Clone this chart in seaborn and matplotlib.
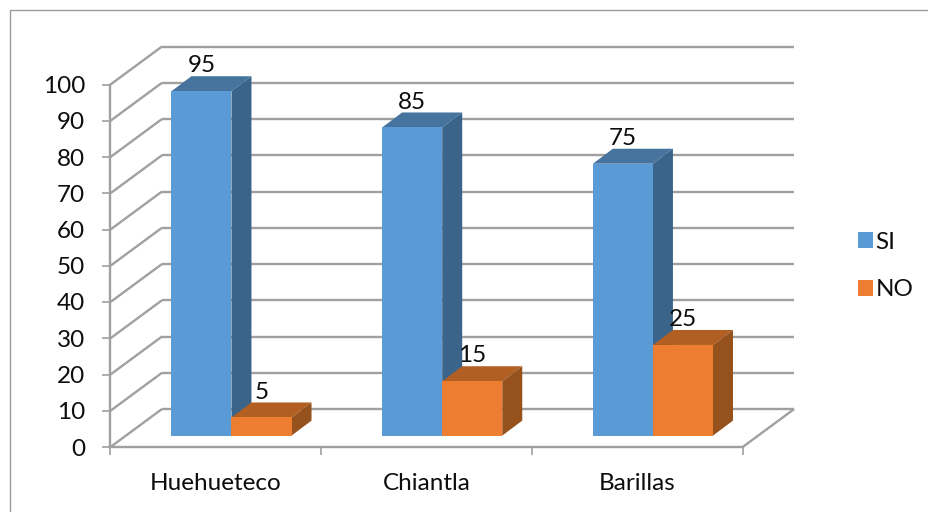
import matplotlib
matplotlib.use("Agg")
import matplotlib.pyplot as plt
import pandas as pd
import seaborn as sns
from matplotlib.lines import Line2D
from matplotlib.patches import Polygon
from matplotlib.transforms import Affine2D

municipios = ["Huehueteco", "Chiantla", "Barillas"]
si_values = [95, 85, 75]
no_values = [5, 15, 25]
series_names = ["SI", "NO"]
y_ticks = list(range(0, 101, 10))

W, H = 929, 512
AX_LEFT, AX_RIGHT, AX_BOTTOM, AX_TOP = 110.5, 742.7, 447.0, 84.5
GRID_COLOR = "#a0a0a0"
TEXT_COLOR = "#0d0d0d"
LABEL_SIZE = 17.5
FRONT = {"SI": "#5b9bd5", "NO": "#ed7d31"}
TOP = {"SI": "#46749f", "NO": "#b25f24"}
SIDE = {"SI": "#3a648a", "NO": "#96521d"}

sns.set_theme(style="white")
plt.rcParams["font.family"] = ["Lato", "DejaVu Sans"]

fig = plt.figure(figsize=(W / 100, H / 100), dpi=100, facecolor="white")
ax = fig.add_axes([AX_LEFT / W, 1 - AX_BOTTOM / H,
                   (AX_RIGHT - AX_LEFT) / W, (AX_BOTTOM - AX_TOP) / H])

table = pd.DataFrame({
    "municipio": municipios * 2,
    "serie": [series_names[0]] * 3 + [series_names[1]] * 3,
    "valor": si_values + no_values,
})
sns.barplot(data=table, x="municipio", y="valor", hue="serie", order=municipios,
            hue_order=series_names, palette=FRONT, width=0.57, gap=0,
            saturation=1, linewidth=0, errorbar=None, ax=ax, zorder=6)
ax.set_xlim(-0.5, 2.5)
ax.set_ylim(0, 100)
ax.set_xlabel("")
ax.set_ylabel("")

# Conversion of pixel distances into data units of the front plane
px_x = 3 / (AX_RIGHT - AX_LEFT)
px_y = 100 / (AX_BOTTOM - AX_TOP)
wall_dx, wall_dy = 51.5 * px_x, 38 * px_y
plane_dx, plane_dy = 15.6 * px_x, 11.4 * px_y
depth_dx, depth_dy = 20 * px_x, 15 * px_y

# Back wall gridlines, left wall diagonals and floor edge
x0, x1 = -0.5, 2.5
grid_kw = dict(color=GRID_COLOR, lw=1.7, clip_on=False, zorder=1,
               solid_capstyle="butt")
for v in y_ticks:
    ax.plot([x0 + wall_dx, x1 + wall_dx], [v + wall_dy, v + wall_dy], **grid_kw)
    ax.plot([x0, x0 + wall_dx], [v, v + wall_dy], **grid_kw)
ax.plot([x1, x1 + wall_dx], [0, wall_dy], **grid_kw)

# Extrude every bar: shift the front face and add its top and side faces
shift = Affine2D().translate(plane_dx, plane_dy) + ax.transData
for name, container, layer in zip(series_names, ax.containers, (3, 4)):
    for patch in container:
        patch.set_transform(shift)
        patch.set_clip_on(False)
        left, right = patch.get_x(), patch.get_x() + patch.get_width()
        value = patch.get_height()
        base, top = plane_dy, value + plane_dy
        l, r = left + plane_dx, right + plane_dx
        ax.add_patch(Polygon(
            [(l, top), (r, top), (r + depth_dx, top + depth_dy), (l + depth_dx, top + depth_dy)],
            closed=True, fc=TOP[name], ec="none", clip_on=False, zorder=layer))
        ax.add_patch(Polygon(
            [(r, base), (r + depth_dx, base + depth_dy), (r + depth_dx, top + depth_dy), (r, top)],
            closed=True, fc=SIDE[name], ec="none", clip_on=False, zorder=layer))
        ax.annotate(f"{value:g}", xy=((l + r) / 2, top), xytext=(0, 13.5),
                    textcoords="offset points", ha="center", va="baseline",
                    fontsize=LABEL_SIZE, color=TEXT_COLOR, zorder=8, annotation_clip=False)

# Axes, ticks and labels
for side in ("top", "right"):
    ax.spines[side].set_visible(False)
for side in ("left", "bottom"):
    ax.spines[side].set_color(GRID_COLOR)
    ax.spines[side].set_linewidth(1.7)
    ax.spines[side].set_zorder(2)
ax.patch.set_alpha(0)
ax.set_yticks(y_ticks)
ax.set_xticks(range(len(municipios)), municipios)
ax.set_xticks([-0.5, 0.5, 1.5, 2.5], minor=True)
ax.tick_params(axis="y", left=True, length=5.8, width=1.2, color=GRID_COLOR, pad=12.5,
               labelsize=LABEL_SIZE, labelcolor=TEXT_COLOR)
ax.tick_params(axis="x", which="major", bottom=False, pad=13,
               labelsize=LABEL_SIZE, labelcolor=TEXT_COLOR)
ax.tick_params(axis="x", which="minor", bottom=True, length=5.8, width=1.2, color=GRID_COLOR)

# Legend at the right of the plot
handles, labels = ax.get_legend_handles_labels()
ax.legend(handles, labels, loc="center left", bbox_to_anchor=(836 / W, 1 - 266 / H),
          bbox_transform=fig.transFigure, frameon=False, fontsize=LABEL_SIZE,
          handlelength=0.62, handleheight=0.62, handletextpad=0.1,
          labelspacing=1.1, labelcolor=TEXT_COLOR)

# Chart area frame, visible along the left and top edges
frame_x = 10.5 / W
frame_y = 1 - 9.5 / H
fig.add_artist(Line2D([frame_x, frame_x, 1], [0, frame_y, frame_y],
                      transform=fig.transFigure, color="#9a9a9a", lw=1.0))

fig.savefig("out.png", dpi=100)
